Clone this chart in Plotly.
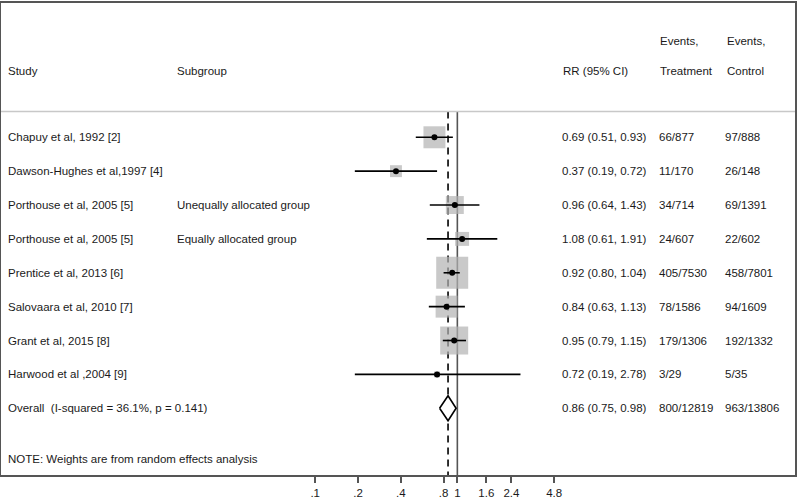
import math
import plotly.graph_objects as go

# ---------------- data ----------------
studies = [
    "Chapuy et al, 1992 [2]",
    "Dawson-Hughes et al,1997 [4]",
    "Porthouse et al, 2005 [5]",
    "Porthouse et al, 2005 [5]",
    "Prentice et al, 2013 [6]",
    "Salovaara et al, 2010 [7]",
    "Grant et al, 2015 [8]",
    "Harwood et al ,2004 [9]",
]
subgroups = ["", "", "Unequally allocated group", "Equally allocated group", "", "", "", ""]
rr = [0.69, 0.37, 0.96, 1.08, 0.92, 0.84, 0.95, 0.72]
ci_low = [0.51, 0.19, 0.64, 0.61, 0.80, 0.63, 0.79, 0.19]
ci_high = [0.93, 0.72, 1.43, 1.91, 1.04, 1.13, 1.15, 2.78]
weights = [13.9, 4.1, 9.3, 5.6, 29.5, 13.9, 22.6, 1.0]
events_treatment = ["66/877", "11/170", "34/714", "24/607", "405/7530", "78/1586", "179/1306", "3/29"]
events_control = ["97/888", "26/148", "69/1391", "22/602", "458/7801", "94/1609", "192/1332", "5/35"]

overall_label = "Overall  (I-squared = 36.1%, p = 0.141)"
overall_rr = 0.86
overall_low = 0.75
overall_high = 0.98
overall_treatment = "800/12819"
overall_control = "963/13806"
note_text = "NOTE: Weights are from random effects analysis"

tick_values = [0.1, 0.2, 0.4, 0.8, 1, 1.6, 2.4, 4.8]
tick_labels = [".1", ".2", ".4", ".8", "1", "1.6", "2.4", "4.8"]

header_top = ["", "", "", "Events,", "Events,"]
header_bottom = ["Study", "Subgroup", "RR (95% CI)", "Treatment", "Control"]

# ---------------- layout helpers ----------------
W, H = 798, 500
PL, PR, PT, PB = 1, 1, 1, 21          # plot area margins (px)
ROW0_PX, ROW_STEP = 137, 34.3         # pixel position of first row, row spacing
PX_PER_DEC, PX_AT_01 = 142.5, 316     # x scale

def px_to_row(py):
    return (py - ROW0_PX) / ROW_STEP

def xp(px):
    return (px - PL) / (W - PL - PR)

y_top = px_to_row(PT)
y_bot = px_to_row(H - PB)
sep_row = px_to_row(111)
x_lo = -1 - (PX_AT_01 - PL) / PX_PER_DEC
x_hi = -1 + (W - PR - PX_AT_01) / PX_PER_DEC

col_study, col_sub, col_rr, col_trt, col_ctl = 6, 175, 562, 660, 727
text_font = dict(family="Liberation Sans, Arial, sans-serif", size=11.5, color="#1a1a1a")

n = len(studies)
rows = list(range(n))
overall_row = n

fig = go.Figure()

# reference lines (null effect and pooled estimate)
fig.add_trace(go.Scatter(x=[1, 1], y=[sep_row, y_bot], mode="lines",
                         line=dict(color="#555555", width=1.6), hoverinfo="skip"))
fig.add_trace(go.Scatter(x=[overall_rr, overall_rr], y=[sep_row, y_bot], mode="lines",
                         line=dict(color="black", width=1.6, dash="7px,5px"), hoverinfo="skip"))

# weight boxes
k = 32 / math.sqrt(max(weights))
fig.add_trace(go.Scatter(x=rr, y=rows, mode="markers",
                         marker=dict(symbol="square", size=[k * math.sqrt(w) for w in weights],
                                     color="#b2b2b2", line=dict(width=0)),
                         hoverinfo="skip"))

# CI lines
ci_x, ci_y = [], []
for i in rows:
    ci_x += [ci_low[i], ci_high[i], None]
    ci_y += [i, i, None]
fig.add_trace(go.Scatter(x=ci_x, y=ci_y, mode="lines",
                         line=dict(color="black", width=1.6), hoverinfo="skip"))

# point estimates
fig.add_trace(go.Scatter(x=rr, y=rows, mode="markers",
                         marker=dict(symbol="circle", size=6, color="black"), hoverinfo="skip"))

# overall diamond
dh = 0.37
fig.add_trace(go.Scatter(
    x=[overall_low, overall_rr, overall_high, overall_rr, overall_low],
    y=[overall_row, overall_row - dh, overall_row, overall_row + dh, overall_row],
    mode="lines", fill="toself", fillcolor="white",
    line=dict(color="black", width=1.6), hoverinfo="skip"))

# separator line under header
fig.add_shape(type="line", xref="paper", yref="y", x0=0, x1=1, y0=sep_row, y1=sep_row,
              line=dict(color="#c8c8c8", width=1.5))

ann = []
def add_text(px, row, text):
    ann.append(dict(x=xp(px), y=row, xref="paper", yref="y", text=text, showarrow=False,
                    xanchor="left", yanchor="middle", font=text_font))

# headers
cols = [col_study, col_sub, col_rr, col_trt, col_ctl]
for c, t, b in zip(cols, header_top, header_bottom):
    if t:
        add_text(c, px_to_row(39), t)
    add_text(c, px_to_row(70), b)

for i in rows:
    add_text(col_study, i, studies[i])
    if subgroups[i]:
        add_text(col_sub, i, subgroups[i])
    add_text(col_rr - 1, i, f"{rr[i]:.2f} ({ci_low[i]:.2f}, {ci_high[i]:.2f})")
    add_text(col_trt - 1, i, events_treatment[i])
    add_text(col_ctl - 2, i, events_control[i])

add_text(col_study, overall_row, overall_label)
add_text(col_rr - 1, overall_row, f"{overall_rr:.2f} ({overall_low:.2f}, {overall_high:.2f})")
add_text(col_trt - 1, overall_row, overall_treatment)
add_text(col_ctl - 2, overall_row, overall_control)
add_text(col_study, px_to_row(463), note_text)

fig.update_layout(
    width=W, height=H,
    margin=dict(l=PL, r=PR, t=PT, b=PB, pad=0),
    paper_bgcolor="white", plot_bgcolor="white",
    showlegend=False,
    annotations=ann,
    xaxis=dict(type="log", range=[x_lo, x_hi], tickvals=tick_values, ticktext=tick_labels,
               ticks="outside", ticklen=6, tickwidth=1.5, tickcolor="#555555",
               showgrid=False, zeroline=False,
               showline=True, mirror=True, linecolor="#555555", linewidth=2,
               tickfont=dict(family="Liberation Sans, Arial, sans-serif", size=11.5, color="#1a1a1a")),
    yaxis=dict(range=[y_bot, y_top], showticklabels=False, ticks="", showgrid=False,
               zeroline=False, showline=True, mirror=True, linecolor="#555555", linewidth=2),
)

fig.write_html("out.html", config={"displayModeBar": False},
               post_script="document.body.style.margin='0';document.body.style.overflow='hidden';")
